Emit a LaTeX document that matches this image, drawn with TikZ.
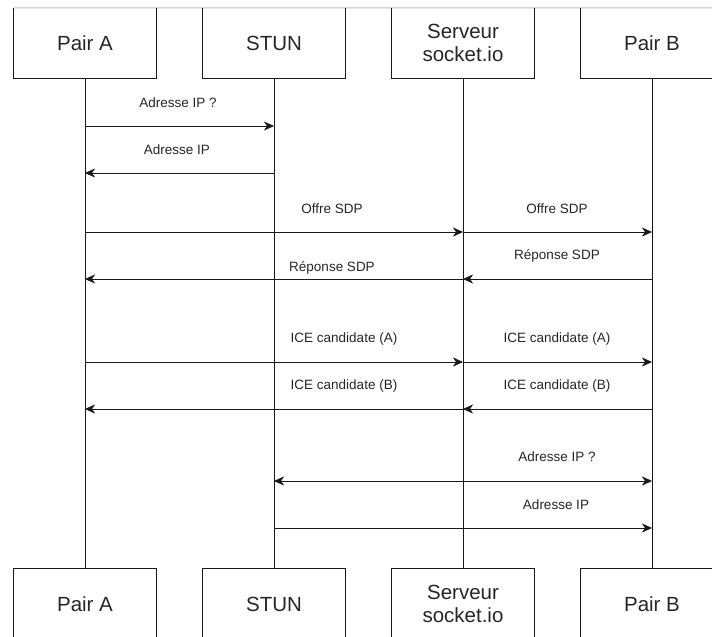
\documentclass[tikz,border=0pt]{standalone}
\usepackage{fontspec}
\setmainfont{Liberation Sans}
\usetikzlibrary{arrows.meta}
\begin{document}
\begin{tikzpicture}[x=1pt,y=-1pt,
  actor/.style={minimum width=142pt,minimum height=70pt,inner sep=0pt,
    align=center,font=\fontsize{20.5}{23}\selectfont,text=black!85},
  lbl/.style={inner sep=0pt,font=\fontsize{13.5}{16}\selectfont,text=black!85},
  edge/.style={line width=1pt,draw=black!90},
  msg/.style={line width=1pt,draw=black!90,
    -{Stealth[length=10pt,width=9pt,inset=3pt,line width=0.5pt]}},
  bimsg/.style={line width=1pt,draw=black!90,
    {Stealth[length=10pt,width=9pt,inset=3pt,line width=0.5pt]}-{Stealth[length=10pt,width=9pt,inset=3pt,line width=0.5pt]}}]
\useasboundingbox (0,0) rectangle (712,637);
\clip (0,0) rectangle (712,637);

% participant boxes, top row
\node[actor] (pa) at (85,43) {Pair A};
\node[actor] (st) at (274,43) {STUN};
\node[actor] (sv) at (463,43) {Serveur\\socket.io};
\node[actor] (pb) at (652,43) {Pair B};
% participant boxes, bottom row
\node[actor] (pa2) at (85,604) {Pair A};
\node[actor] (st2) at (274,604) {STUN};
\node[actor] (sv2) at (463,604) {Serveur\\socket.io};
\node[actor] (pb2) at (652,604) {Pair B};

\draw[line width=1pt,draw=black!25] (pa.north west) -- (712,8);
\foreach \n in {pa,st,sv,pb}
  \draw[edge] (\n.north west) |- (\n.south east) -- (\n.north east);
\foreach \n in {pa2,st2,sv2,pb2}
  \draw[edge] (\n.south west) |- (\n.north east) -- (\n.south east);

% lifelines
\draw[edge] (pa.south) -- (pa2.north);
\draw[edge] (st.south) -- (st2.north);
\draw[edge] (sv.south) -- (sv2.north);
\draw[edge] (pb.south) -- (pb2.north);

% message end points on the lifelines
\foreach \y in {126,173,232,279,362,409,481,528} {
  \coordinate (a\y) at (85,\y);
  \coordinate (t\y) at (274,\y);
  \coordinate (s\y) at (463,\y);
  \coordinate (b\y) at (652,\y);
}

% Pair A asks STUN for its address
\draw[msg] (a126) -- (t126);
\node[lbl] (l1) at (178,102.5) {Adresse IP ?};
\draw[msg] (t173) -- (a173);
\node[lbl] (l2) at (177,150) {Adresse IP};

% SDP offer / answer through the signalling server
\draw[msg] (a232) -- (s232);
\node[lbl] (l3) at (332,209) {Offre SDP};
\draw[msg] (s232) -- (b232);
\node[lbl] (l4) at (557,209) {Offre SDP};
\draw[msg] (b279) -- (s279);
\node[lbl] (l5) at (557,256) {Réponse SDP};
\draw[msg] (s279) -- (a279);
\node[lbl] (l6) at (332,268) {Réponse SDP};

% ICE candidates exchange
\draw[msg] (a362) -- (s362);
\node[lbl] (l7) at (344,339) {ICE candidate (A)};
\draw[msg] (s362) -- (b362);
\node[lbl] (l8) at (557,339) {ICE candidate (A)};
\draw[msg] (b409) -- (s409);
\node[lbl] (l9) at (557,386) {ICE candidate (B)};
\draw[msg] (s409) -- (a409);
\node[lbl] (l10) at (344,386) {ICE candidate (B)};

% Pair B and STUN
\draw[bimsg] (t481) -- (b481);
\node[lbl] (l11) at (557,457) {Adresse IP ?};
\draw[msg] (t528) -- (b528);
\node[lbl] (l12) at (556,504.5) {Adresse IP};
\end{tikzpicture}
\end{document}
